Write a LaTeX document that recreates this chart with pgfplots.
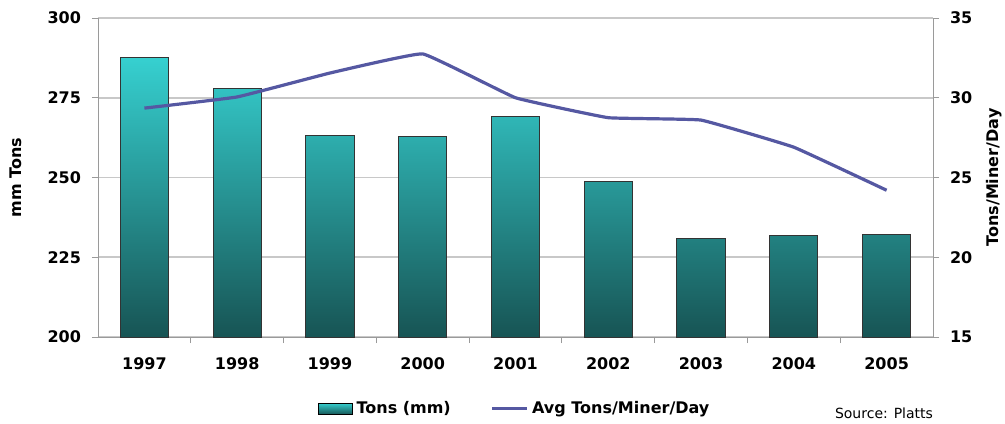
\documentclass[border=0pt]{standalone}
\usepackage{fontspec}
\setmainfont{DejaVu Sans}
\usepackage{pgfplots}
\pgfplotsset{compat=1.18}
\definecolor{barTop}{HTML}{36D0D0}
\definecolor{barBot}{HTML}{175454}
\definecolor{lineC}{HTML}{5558A2}
\definecolor{gridC}{HTML}{C8C8C8}
\definecolor{axC}{HTML}{9A9A9A}
\begin{document}
\begin{tikzpicture}[x=1pt,y=1pt]
\useasboundingbox (-49,-43) rectangle (453.5,168.5);
\pgfplotsset{
  common/.style={
    scale only axis, width=417.5pt, height=159.5pt,
    at={(0,0)}, anchor=south west,
    xmin=-0.5, xmax=8.5,
    axis line style={axC},
    tick style={axC, thin},
    major tick length=3pt,
    tick align=outside,
    font=\fontsize{8}{10}\selectfont\bfseries,
    /pgf/number format/assume math mode=true,
    /pgf/number format/1000 sep={},
  }
}
\begin{axis}[common,
  ymin=200, ymax=300, ytick={200,225,...,300},
  ymajorgrids, grid style={gridC, line width=0.8pt},
  xtick={0,...,8},
  xticklabels={1997,1998,1999,2000,2001,2002,2003,2004,2005},
  major x tick style={draw=none},
  minor xtick={0.5,1.5,...,7.5},
  minor x tick style={axC},
  minor tick length=3pt,
  axis y line*=left, axis x line*=bottom,
  ylabel={mm Tons}, ylabel style={yshift=6pt},
  xticklabel style={yshift=-4pt},
  yticklabel style={xshift=-2pt},
]
\addplot[ybar, bar width=0.52, draw=black!80, line width=0.5pt,
  top color=barTop, bottom color=barBot] coordinates {
  (0,287.5) (1,277.8) (2,263.3) (3,262.8) (4,269.0) (5,248.7) (6,230.8) (7,231.9) (8,232.2)};
\end{axis}
\begin{axis}[common,
  ymin=15, ymax=35, ytick={15,20,...,35},
  axis y line*=right, axis x line=none,
  ylabel={Tons/Miner/Day},
  yticklabel style={xshift=2pt},
  legend style={at={(0.5,-0.225)}, anchor=center, draw=none, legend columns=2,
    fill=none,
    font=\fontsize{8}{10}\selectfont\bfseries,
    /tikz/every even column/.append style={column sep=18pt}},
  legend cell align=left,
]
\addlegendimage{area legend, draw=black, top color=barTop, bottom color=barBot}
\addlegendentry{Tons (mm)}
\addplot[lineC, line width=1.6pt, smooth, tension=0.15] coordinates {
  (0,29.35) (1,30.05) (2,31.55) (3,32.75) (4,30.0) (5,28.75) (6,28.6) (7,26.9) (8,24.2)};
\addlegendentry{Avg Tons/Miner/Day}
\end{axis}
\node[anchor=east, font=\fontsize{7}{9}\selectfont] at (421,-38) {Source: Platts};
\end{tikzpicture}
\end{document}
